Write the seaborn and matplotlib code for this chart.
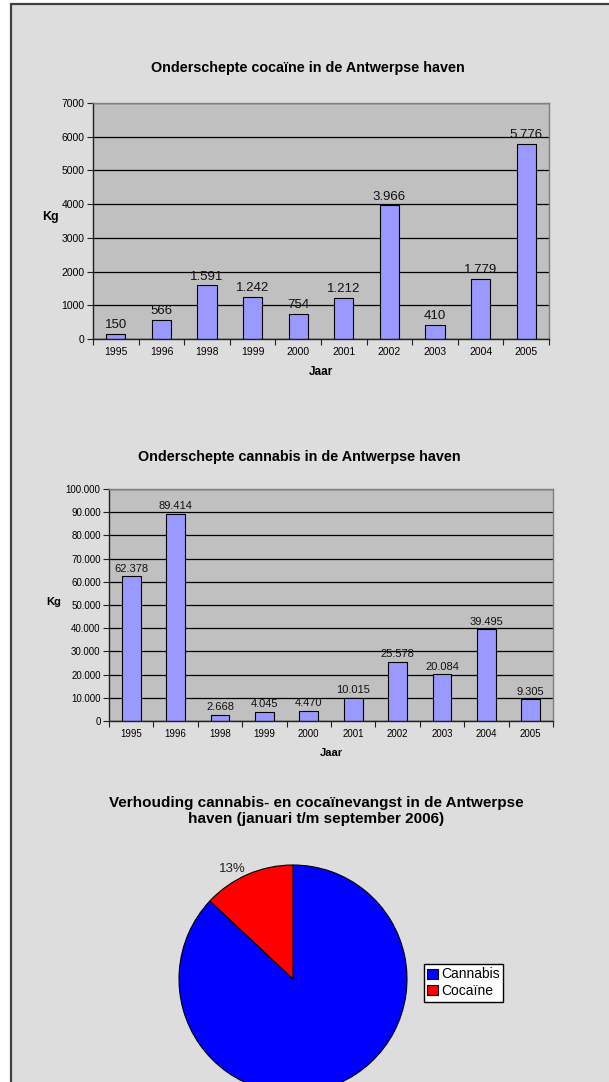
import numpy as np
import pandas as pd
import seaborn as sns
import matplotlib
matplotlib.use('Agg')
from matplotlib import pyplot as plt
from matplotlib.patches import Rectangle
from matplotlib.ticker import FuncFormatter, FixedLocator

# Data
years = ['1995', '1996', '1998', '1999', '2000', '2001', '2002', '2003', '2004', '2005']
cocaine_kg = [150, 566, 1591, 1242, 754, 1212, 3966, 410, 1779, 5776]
cannabis_kg = [62378, 89414, 2668, 4045, 4470, 10015, 25578, 20084, 39495, 9305]
pie_names = ['Cannabis', 'Cocaïne']
pie_values = [87, 13]
pie_labels = ['87%', '13%']

W, H = 609, 1082
bar_color = '#9999FF'
plot_bg = '#C0C0C0'
chart_bg = '#DDDDDD'

sns.set_style('white')
plt.rcParams['font.family'] = ['Liberation Sans', 'DejaVu Sans']
plt.rcParams['text.color'] = 'black'
plt.rcParams['axes.labelcolor'] = 'black'
plt.rcParams['xtick.color'] = 'black'
plt.rcParams['ytick.color'] = 'black'


def dotted(v):
    return '{:,}'.format(int(v)).replace(',', '.')


def px_axes(left, top, right, bottom):
    # pixel box -> figure fraction rect
    return [left / W, 1 - bottom / H, (right - left) / W, (bottom - top) / H]


def bar_chart(ax, values, ymax, step, tick_fmt, label_size, tick_size, kg_size, kg_xy, jaar_size):
    df = pd.DataFrame({'Jaar': years, 'Kg': values})
    sns.barplot(data=df, x='Jaar', y='Kg', color=bar_color, saturation=1, width=0.42,
                edgecolor='black', linewidth=0.8, ax=ax)
    ax.set_facecolor(plot_bg)
    ax.set_ylim(0, ymax)
    ax.set_xlim(-0.5, len(years) - 0.5)
    ax.set_yticks(np.arange(0, ymax + 1, step))
    ax.yaxis.set_major_formatter(FuncFormatter(tick_fmt))
    ax.yaxis.grid(True, color='black', linewidth=0.9)
    ax.set_axisbelow(True)
    ax.bar_label(ax.containers[0], labels=[dotted(v) for v in values], padding=2,
                 fontsize=label_size, color='#111111')
    for s in ['top', 'right']:
        ax.spines[s].set_color('#808080')
        ax.spines[s].set_linewidth(1.0)
    for s in ['left', 'bottom']:
        ax.spines[s].set_color('#202020')
        ax.spines[s].set_linewidth(1.0)
    ax.tick_params(axis='y', direction='out', length=4, width=0.8, color='#202020',
                   labelsize=tick_size, pad=2, left=True)
    ax.tick_params(axis='x', which='major', length=0, labelsize=tick_size, pad=6)
    ax.xaxis.set_minor_locator(FixedLocator(np.arange(-0.5, len(years), 1.0)))
    ax.tick_params(axis='x', which='minor', direction='out', length=4, width=0.8,
                   color='#202020', bottom=True)
    ax.set_ylabel('Kg', rotation=0, fontsize=kg_size, fontweight='bold')
    ax.yaxis.set_label_coords(*kg_xy)
    ax.set_xlabel('Jaar', fontsize=jaar_size, fontweight='bold', labelpad=6)


fig = plt.figure(figsize=(W / 100, H / 100), dpi=100)
fig.patch.set_facecolor('white')
fig.patches.append(Rectangle((11 / W, -0.05), 1.0, 1.05 - 4 / H, transform=fig.transFigure,
                             facecolor=chart_bg, edgecolor='#404040', linewidth=1.6, zorder=-5))

# Chart 1: cocaine
ax1 = fig.add_axes(px_axes(93, 103, 549, 339))
bar_chart(ax1, cocaine_kg, 7000, 1000, lambda v, p: '{:d}'.format(int(v)),
          9.5, 7.5, 9, (-0.094, 0.49), 8.5)
fig.text(308 / W, 1 - 68 / H, 'Onderschepte cocaïne in de Antwerpse haven', ha='center',
         va='center', fontsize=10.35, fontweight='bold')

# Chart 2: cannabis
ax2 = fig.add_axes(px_axes(109, 489, 553, 721))
bar_chart(ax2, cannabis_kg, 100000, 10000, lambda v, p: dotted(v),
          8, 7, 8, (-0.124, 0.49), 8)
fig.text(299 / W, 1 - 457 / H, 'Onderschepte cannabis in de Antwerpse haven', ha='center',
         va='center', fontsize=10.35, fontweight='bold')

# Chart 3: pie
fig.text(316 / W, 1 - 811 / H,
         'Verhouding cannabis- en cocaïnevangst in de Antwerpse\nhaven (januari t/m september 2006)',
         ha='center', va='center', fontsize=11, fontweight='bold', linespacing=1.2)
ax3 = fig.add_axes(px_axes(179, 865, 407, 1093))
wedges, texts = ax3.pie(pie_values, labels=pie_labels, colors=['#0000FF', '#FF0000'],
                        startangle=90, counterclock=False, labeldistance=1.05,
                        wedgeprops=dict(edgecolor='black', linewidth=0.8),
                        textprops=dict(fontsize=9.5, color='#202020'))
ax3.set_xlim(-1, 1)
ax3.set_ylim(-1, 1)
fig.legend(wedges, pie_names, loc='upper left', bbox_to_anchor=(424 / W, 1 - 964 / H),
           frameon=True, fancybox=False, edgecolor='black', facecolor='white', framealpha=1,
           fontsize=10, handlelength=0.75, handleheight=0.75, handletextpad=0.25,
           borderpad=0.25, labelspacing=0.2, borderaxespad=0)

fig.savefig('out.png', dpi=100)
